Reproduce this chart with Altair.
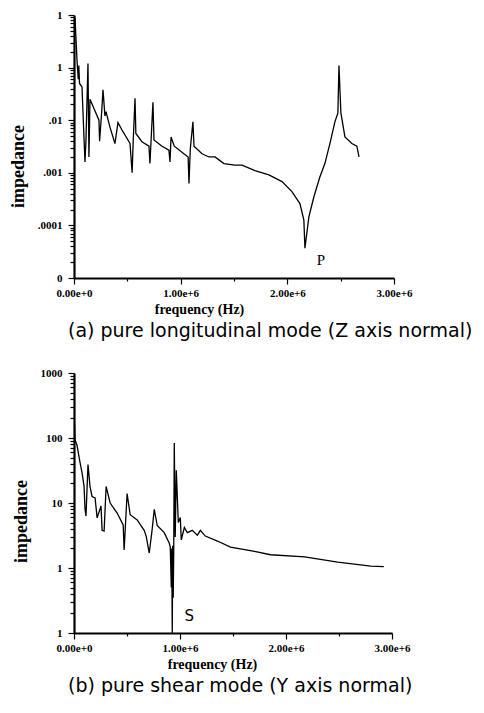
import json
import altair as alt
import pandas as pd

# ---------------- data ----------------
top_freq = [9400, 28000, 40000, 45000, 52000, 75000, 93000, 103000, 112000, 131000,
            140000, 150000, 170000, 234000, 240000, 260000, 272000, 290000, 300000, 337000,
            384000, 412000, 450000, 525000, 545000, 555000, 572000, 580000, 637000, 703000,
            712000, 740000, 750000, 825000, 890000, 900000, 910000, 940000, 1030000, 1070000,
            1078000, 1090000, 1115000, 1125000, 1200000, 1265000, 1322000, 1406000, 1509000, 1575000,
            1697000, 1827000, 1950000, 2043000, 2118000, 2155000, 2165000, 2202000, 2249000, 2305000,
            2352000, 2399000, 2446000, 2474000, 2484000, 2502000, 2540000, 2605000, 2652000, 2672000]
top_imp = [0.89, 0.14, 0.06, 0.11, 0.05, 0.043, 0.005, 0.0016, 0.004, 0.12,
           0.002, 0.025, 0.02, 0.01, 0.004, 0.015, 0.038, 0.012, 0.0145, 0.0074,
           0.0036, 0.009, 0.0065, 0.0036, 0.001, 0.004, 0.026, 0.0056, 0.0039, 0.0032,
           0.0015, 0.022, 0.0042, 0.0032, 0.0027, 0.0016, 0.0048, 0.0032, 0.0023, 0.002,
           0.00063, 0.0028, 0.0093, 0.0032, 0.0023, 0.002, 0.002, 0.0015, 0.0014, 0.0014,
           0.0011, 0.00091, 0.00068, 0.00044, 0.00026, 0.000126, 0.000037, 0.000145, 0.00035, 0.00083,
           0.0015, 0.0036, 0.0093, 0.0138, 0.11, 0.0138, 0.0048, 0.0036, 0.0032, 0.002]

bot_freq = [3000, 9500, 28000, 57000, 76000, 95000, 104000, 113000, 132000, 151000,
            170000, 199000, 218000, 255000, 265000, 284000, 303000, 341000, 407000, 464000,
            473000, 501000, 530000, 596000, 662000, 681000, 710000, 738000, 757000, 785000,
            851000, 899000, 908000, 918000, 922000, 927000, 931000, 936000, 941000, 946000,
            955000, 965000, 984000, 1003000, 1012000, 1041000, 1069000, 1116000, 1164000, 1192000,
            1239000, 1353000, 1476000, 1703000, 1854000, 2176000, 2488000, 2800000, 2923000]
bot_imp = [190, 93, 78, 42, 29, 18, 8, 6.3, 39, 18,
           12.6, 12, 5.9, 9, 3.8, 3.7, 18, 10, 7, 4.6,
           1.9, 14, 6.6, 5.5, 3.8, 3.1, 1.7, 4, 8, 4.5,
           3.5, 2.4, 2.1, 0.5, 2.0, 0.1, 2.2, 0.35, 2.0, 84,
           3, 32, 5, 6, 2.7, 4.2, 3.5, 3.8, 3.2, 3.8,
           3.1, 2.6, 2.1, 1.8, 1.6, 1.48, 1.23, 1.07, 1.05]

top_labels = ["0", ".0001", ".001", ".01", "1", "1"]      # exponents -5 .. 0
bot_labels = ["1", "1", "10", "100", "1000"]              # exponents -1 .. 3
x_ticks = [0, 500000, 1000000, 1500000, 2000000, 2500000, 3000000]

top_note = {"f": [2315000], "z": [2.2e-5], "t": ["P"]}
bot_note = {"f": [1088000], "z": [0.18], "t": ["S"]}

caption_a = "(a) pure longitudinal mode (Z axis normal)"
caption_b = "(b) pure shear mode (Y axis normal)"

SERIF = "Liberation Serif"


def log_ticks(emin, emax):
    vals = []
    for e in range(emin, emax):
        for m in range(1, 10):
            vals.append(float(f"{m}e{e}"))
    vals.append(float(f"1e{emax}"))
    return vals


def is_decade():
    return "abs(log(datum.value)/LN10 - round(log(datum.value)/LN10)) < 0.01"


def y_axis(labels, emin, emax, title_y):
    expr = (f"{is_decade()} ? {json.dumps(labels)}[round(log(datum.value)/LN10) - ({emin})] : ''")
    return alt.Axis(
        title="impedance", values=log_ticks(emin, emax), labelExpr=expr,
        grid=False, domainColor="black", domainWidth=2.2, tickColor="black", tickWidth=1.2,
        tickSize={"condition": {"test": is_decade(), "value": 6}, "value": 4},
        labelFont=SERIF, labelFontWeight="bold", labelFontSize=11, labelColor="black",
        labelPadding=6, labelOverlap=False,
        titleFont=SERIF, titleFontWeight="bold", titleFontSize=18, titleColor="black",
        titleY=title_y, titlePadding=10)


def x_axis(title_x):
    return alt.Axis(
        title="frequency (Hz)", values=x_ticks,
        labelExpr="datum.value % 1000000 === 0 ? format(datum.value, '.2e') : ''",
        grid=False, domainColor="black", domainWidth=2, tickColor="black", tickWidth=1.2,
        tickSize={"condition": {"test": "datum.value % 1000000 === 0", "value": 6}, "value": 3},
        labelFont=SERIF, labelFontWeight="bold", labelFontSize=11, labelColor="black",
        labelPadding=3, labelOverlap=False, labelFlush=False,
        titleFont=SERIF, titleFontWeight="bold", titleFontSize=14, titleColor="black",
        titleX=title_x, titlePadding=4)


def panel(freq, imp, dom, labels, emin, emax, note, caption, w, h, tx, ty, note_font):
    df = pd.DataFrame({"f": freq, "z": imp})
    xs = alt.X("f:Q", scale=alt.Scale(domain=[0, 3000000], nice=False), axis=x_axis(tx))
    ys = alt.Y("z:Q", scale=alt.Scale(type="log", domain=dom, nice=False),
               axis=y_axis(labels, emin, emax, ty))
    line = alt.Chart(df).mark_line(color="black", strokeWidth=1.3, clip=True).encode(x=xs, y=ys)
    nd = pd.DataFrame(note)
    txt = alt.Chart(nd).mark_text(font=note_font, fontSize=15, color="black").encode(
        x=alt.X("f:Q"), y=alt.Y("z:Q"), text="t:N")
    return alt.layer(line, txt).properties(
        width=w, height=h,
        title=alt.TitleParams(text=caption, orient="bottom", anchor="start", frame="group",
                              font="DejaVu Sans", fontSize=19, fontWeight="normal",
                              color="black", offset=6, dx=-6))


top = panel(top_freq, top_imp, [1e-5, 1], top_labels, -5, 0, top_note, caption_a,
            320, 263, 125, 151, SERIF)
bot = panel(bot_freq, bot_imp, [0.1, 1000], bot_labels, -1, 3, bot_note, caption_b,
            318, 260, 138, 148, "DejaVu Sans")

chart = alt.vconcat(top, bot, spacing=26).properties(
    padding={"left": 9, "top": 9, "right": 5, "bottom": 5},
    background="white",
).configure_view(stroke=None)

chart.save("out.html", embed_options={"renderer": "svg", "actions": False})
